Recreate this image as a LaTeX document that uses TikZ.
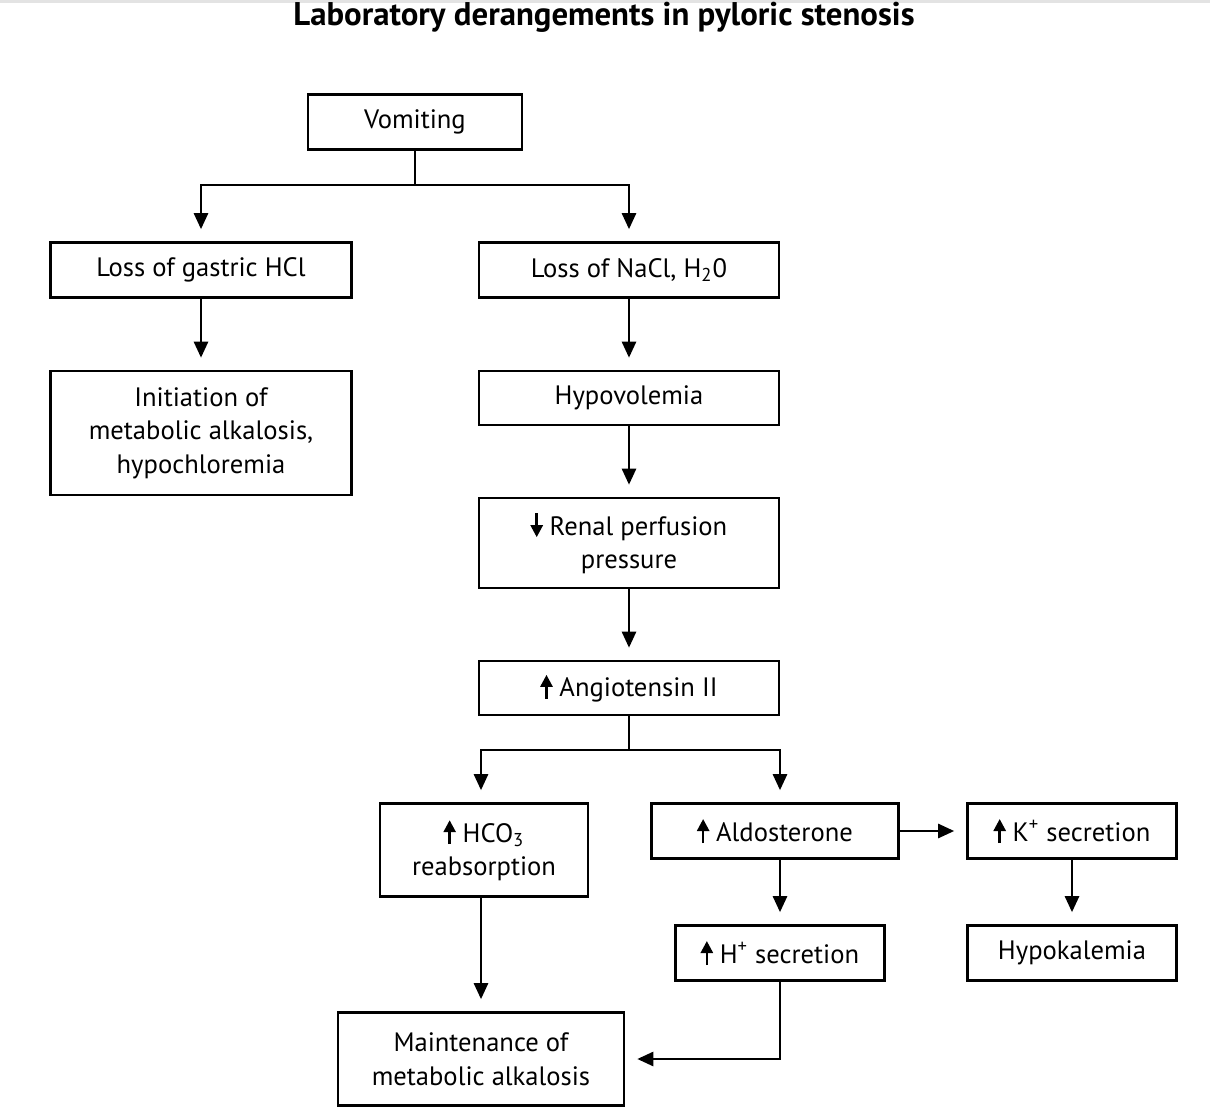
\documentclass[tikz,border=0pt]{standalone}
\usepackage{fontspec}
\setmainfont{PT Sans}
\usetikzlibrary{arrows.meta,positioning,calc}
\tikzset{%
        box/.style = { draw, line width=1.3pt, align=center, inner sep=2pt, font=\fontsize{13.3}{16.8}\selectfont },
       link/.style = { line width=1.3pt, -{Triangle[width=7pt,length=8pt]}, shorten >=6pt },
       wire/.style = { line width=1.3pt },
      title/.style = { font=\fontsize{16.4}{18}\selectfont\bfseries }
}
\newcommand{\uparr}{\tikz[baseline=0pt]\draw[line width=1.3pt,-{Triangle[width=6pt,length=6pt]}] (0,-1pt) -- (0,11pt);\hspace{3.5pt}}
\newcommand{\dnarr}{\tikz[baseline=0pt]\draw[line width=1.3pt,-{Triangle[width=6pt,length=6pt]}] (0,11pt) -- (0,-1pt);\hspace{3.5pt}}

\begin{document}
\begin{tikzpicture}[x=0.5pt,y=-0.5pt]
\useasboundingbox (0,0) rectangle (1210,1112);
\fill[gray!22] (0,0) rectangle (1210,3);
\node[title] (ttl) at (604,17) {Laboratory derangements in pyloric stenosis};
% first rows
\node[box,minimum width=107pt,minimum height=27.5pt] (vom) at (415,122) {Vomiting};
\node[box,minimum width=150.5pt,minimum height=27.5pt] (hcl) at (201,270) {Loss of gastric HCl};
\node[box,minimum width=150pt,minimum height=27.5pt] (nacl) at (629,270) {Loss of NaCl, H\textsubscript{2}0};
\node[box,minimum width=150.5pt,minimum height=62pt] (init) at (201,433) {Initiation of\\metabolic alkalosis,\\hypochloremia};
\node[box,minimum width=150pt,minimum height=27pt] (hypo) at (629,398) {Hypovolemia};
\node[box,minimum width=150pt,minimum height=45pt] (renal) at (629,543) {\dnarr Renal perfusion\\pressure};
\node[box,minimum width=150pt,minimum height=27pt] (ang) at (629,688) {\uparr Angiotensin II};
% lower rows
\node[box,minimum width=104pt,minimum height=46.5pt] (hco) at (484,850) {\uparr HCO\textsubscript{3}\\reabsorption};
\node[box,minimum width=123.5pt,minimum height=27.5pt] (aldo) at (775,831) {\uparr Aldosterone};
\node[box,minimum width=104.5pt,minimum height=27.5pt] (kplus) at (1072,831) {\uparr K\textsuperscript{+} secretion};
\node[box,minimum width=104.5pt,minimum height=27.5pt] (hplus) at (780,953) {\uparr H\textsuperscript{+} secretion};
\node[box,minimum width=104.5pt,minimum height=27.5pt] (hypok) at (1072,953) {Hypokalemia};
\node[box,minimum width=143pt,minimum height=46.5pt] (maint) at (481,1059) {Maintenance of\\metabolic alkalosis};
% connectors
\coordinate (vjoin) at (vom.south |- 0,185);
\draw[wire] (vom.south) -- (vjoin);
\draw[link] (vjoin) -| (hcl.north);
\draw[link] (vjoin) -| (nacl.north);
\draw[link] (hcl) -- (init);
\draw[link] (nacl) -- (hypo);
\draw[link] (hypo) -- (renal);
\draw[link] (renal) -- (ang);
\coordinate (ajoin) at (ang.south |- 0,750);
\draw[wire] (ang.south) -- (ajoin);
\draw[link] (ajoin) -| (maint.north |- hco.north);
\draw[link] (ajoin) -| (hplus.north |- aldo.north);
\draw[link] (aldo.east) -- (kplus.west);
\draw[link] (hplus.north |- aldo.south) -- (hplus.north);
\draw[link] (kplus) -- (hypok);
\draw[link] (maint.north |- hco.south) -- (maint.north);
\draw[link] (hplus.south) |- (maint.east);
\end{tikzpicture}
\end{document}
